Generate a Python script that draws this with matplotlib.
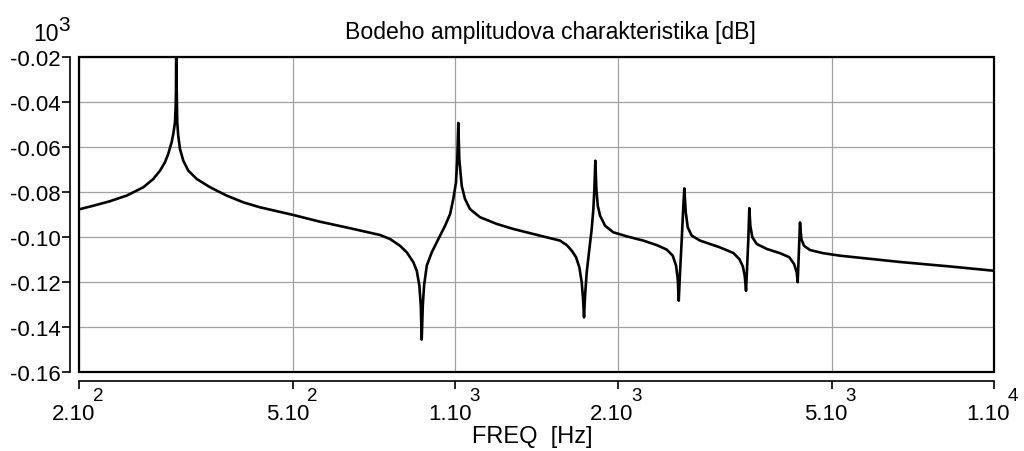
import matplotlib
matplotlib.use("Agg")
import matplotlib.pyplot as plt
from matplotlib.patches import Rectangle
from matplotlib.transforms import offset_copy

plt.rcParams['font.family'] = ['Liberation Sans', 'DejaVu Sans']

title = "Bodeho amplitudova charakteristika [dB]"
xlabel = "FREQ  [Hz]"
y_scale_base, y_scale_exp = "10", "3"

# frequency [Hz] and amplitude [x10^3 dB]
freq_hz = [200, 200.9, 212.6, 228.3, 245.2, 263.3, 274.8, 282.8, 288.8, 292.9,
           297.2, 299.3, 301.5, 302.4, 302.8, 303.1, 303.7, 304.4, 305.7, 308.0,
           312.4, 319.1, 330.8, 350.3, 376.1, 403.8, 433.6, 499.7, 560.5, 637.3,
           679.3, 724.3, 756.2, 788.9, 812.1, 835.3, 847.6, 857.1, 862.3, 865.7,
           869.7, 874.5, 884.7, 903.8, 929.6, 956.7, 977.4, 990.9, 1002.4, 1008.0,
           1012.3, 1016.6, 1027.1, 1041.7, 1064.2, 1110.6, 1193.3, 1279.3, 1435.5,
           1563.5, 1609.5, 1644.3, 1674.8, 1698.6, 1715.7, 1725.7, 1732.8, 1740.5,
           1752.9, 1772.9, 1790.8, 1803.5, 1811.2, 1818.7, 1826.8, 1837.7, 1855.9,
           1896.0, 1963.9, 2079.6, 2233, 2364.6, 2468.2, 2532.2, 2568.2, 2587,
           2598, 2612.4, 2631.6, 2649.6, 2660.6, 2676.8, 2699.8, 2746.4, 2845.6,
           3098, 3281, 3366.4, 3416, 3444.8, 3464, 3478.8, 3498.2, 3513, 3528.2,
           3558.6, 3626, 3784.6, 4006, 4168.4, 4253.2, 4302.6, 4320, 4339.4, 4363,
           4388, 4438.8, 4554.2, 4820, 5176, 6691, 8287, 10000]
level = [-0.0876, -0.0876, -0.0861, -0.0841, -0.0816, -0.0779, -0.0742, -0.0705,
         -0.0668, -0.0631, -0.0579, -0.0542, -0.0490, -0.0416, -0.0342, -0.0050,
         -0.0342, -0.0490, -0.0550, -0.0609, -0.0661, -0.0705, -0.0742, -0.0779,
         -0.0816, -0.0846, -0.0868, -0.0902, -0.0932, -0.0961, -0.0976, -0.0991,
         -0.1009, -0.1039, -0.1068, -0.1112, -0.1150, -0.1216, -0.1305, -0.1456,
         -0.1305, -0.1216, -0.1127, -0.1068, -0.1009, -0.0950, -0.0898, -0.0831,
         -0.0757, -0.0653, -0.0493, -0.0653, -0.0772, -0.0831, -0.0876, -0.0912,
         -0.0942, -0.0964, -0.0994, -0.1016, -0.1036, -0.1061, -0.1090, -0.1135,
         -0.1201, -0.1276, -0.1357, -0.1261, -0.1157, -0.1053, -0.0964, -0.0876,
         -0.0787, -0.0661, -0.0787, -0.0861, -0.0905, -0.0950, -0.0979, -0.0997,
         -0.1016, -0.1036, -0.1056, -0.1083, -0.1127, -0.1187, -0.1283, -0.1157,
         -0.1009, -0.0861, -0.0784, -0.0890, -0.0957, -0.0994, -0.1016, -0.1046,
         -0.1071, -0.1098, -0.1130, -0.1172, -0.1239, -0.1142, -0.1009, -0.0872,
         -0.0950, -0.1001, -0.1031, -0.1053, -0.1072, -0.1090, -0.1120, -0.1157,
         -0.1201, -0.1083, -0.0935, -0.1009, -0.1039, -0.1058, -0.1072, -0.1083,
         -0.1111, -0.1131, -0.1150]

x_ticks = [200, 500, 1000, 2000, 5000, 10000]
x_tick_mantissa = ["2.10", "5.10", "1.10", "2.10", "5.10", "1.10"]
x_tick_exponent = ["2", "2", "3", "3", "3", "4"]
y_ticks = [-0.16, -0.14, -0.12, -0.10, -0.08, -0.06, -0.04, -0.02]
y_tick_labels = ["-0.16", "-0.14", "-0.12", "-0.10", "-0.08", "-0.06", "-0.04", "-0.02"]

fig = plt.figure(figsize=(10.24, 4.52), dpi=100)
ax = fig.add_axes([79 / 1024, 1 - 373 / 452, (994 - 79) / 1024, (373 - 58) / 452])

for s in ("top", "right"):
    ax.spines[s].set_visible(False)
ax.spines["left"].set_position(("outward", 6.5))
ax.spines["bottom"].set_position(("outward", 6.5))
for s in ("left", "bottom"):
    ax.spines[s].set_linewidth(1.2)

ax.plot(freq_hz, level, color="black", lw=1.9, solid_joinstyle="round", zorder=3)
ax.set_xscale("log")
ax.set_xlim(200, 10000)
ax.set_ylim(-0.16, -0.02)
ax.set_xticks(x_ticks)
ax.set_xticklabels([""] * len(x_ticks))
ax.minorticks_off()
ax.set_yticks(y_ticks)
ax.set_yticklabels(y_tick_labels)

ax.grid(True, color="#a0a0a0", lw=0.9)
ax.set_axisbelow(True)

ax.tick_params(axis="both", direction="out", length=6, width=1.2, color="black",
               labelsize=16)
ax.tick_params(axis="y", pad=1)

# x tick labels as mantissa + raised exponent
xtrans = ax.get_xaxis_transform()
base_tr = offset_copy(xtrans, fig=fig, x=11.5, y=-33.6, units="points")
exp_tr = offset_copy(xtrans, fig=fig, x=9.8, y=-17.0, units="points")
for t, m, e in zip(x_ticks, x_tick_mantissa, x_tick_exponent):
    ax.text(t, 0, m, transform=base_tr, ha="right", va="baseline",
            fontsize=16, clip_on=False)
    ax.text(t, 0, e, transform=exp_tr, ha="left", va="center",
            fontsize=13.5, clip_on=False)

ax.add_patch(Rectangle((0, 0), 1, 1, transform=ax.transAxes, fill=False,
                       edgecolor="black", lw=1.6, clip_on=False, zorder=4))

fig.text(550 / 1024, 1 - 33 / 452, title, ha="center", va="center", fontsize=16.6)
fig.text(532 / 1024, 1 - 437 / 452, xlabel, ha="center", va="center", fontsize=17)
fig.text(33 / 1024, 1 - 41 / 452, y_scale_base, ha="left", va="baseline", fontsize=16.5)
fig.text(58 / 1024, 1 - 25.5 / 452, y_scale_exp, ha="left", va="center", fontsize=15)

fig.savefig("out.png", dpi=100)
